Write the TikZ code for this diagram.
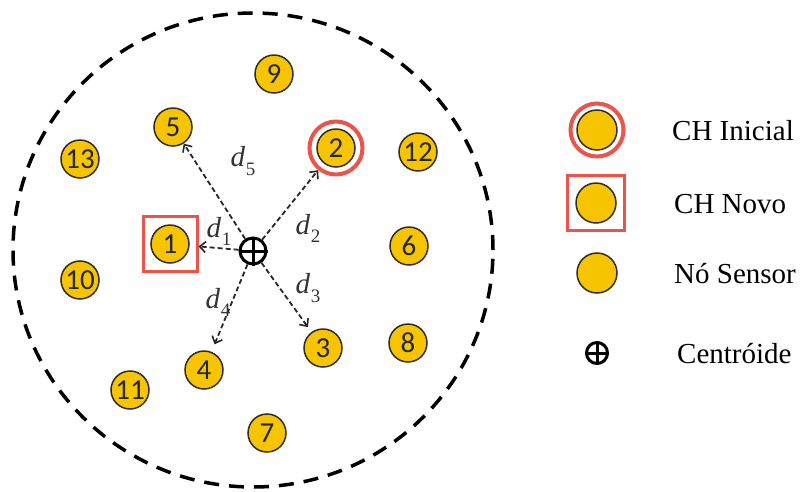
\documentclass[tikz,border=0pt]{standalone}
\usepackage{fontspec}
\setmainfont{Liberation Serif}
\newfontfamily\numfont{Carlito}
\usetikzlibrary{arrows.meta}
\definecolor{nodeyellow}{RGB}{247,197,0}
\definecolor{chred}{RGB}{234,84,74}
\definecolor{outl}{RGB}{50,45,30}
\newcommand\dsub[1]{\textit{d}\kern0.5pt\raisebox{-0.28em}{\fontsize{19}{19}\selectfont #1}}
\begin{document}
\begin{tikzpicture}[x=1pt,y=-1pt,
  sensor/.style={circle,draw=outl,line width=1.5pt,fill=nodeyellow,minimum size=38pt,inner sep=0pt,
    font=\numfont\fontsize{29}{29}\selectfont,text=black!85},
  ring/.style={circle,draw=chred,line width=4pt,minimum size=53pt,inner sep=0pt},
  sqbox/.style={rectangle,draw=chred,line width=3pt,minimum width=54pt,minimum height=55pt,inner sep=0pt},
  centr/.style={circle,draw=black,line width=3pt,minimum size=26pt,inner sep=0pt},
  bigdash/.style={line width=3.5pt,dash pattern=on 15pt off 10pt},
  dist/.style={draw=black!85,line width=1.8pt,dash pattern=on 5pt off 3pt,
    -{Straight Barb[length=6pt,width=11pt,line width=1.6pt]}},
  dlabel/.style={font=\fontsize{29}{29}\selectfont,inner sep=0pt,text=black!80},
  legtext/.style={anchor=base west,inner sep=0pt,font=\fontsize{29}{29}\selectfont}
]
\useasboundingbox (0,0) rectangle (807,491);

% cluster boundary
\draw[bigdash] (253,250) ellipse [x radius=240pt, y radius=237pt];

% red markers
\node[ring] (r2) at (336,148) {};
\node[sqbox] (s1) at (170,244) {};

% sensor nodes
\node[sensor] (n1) at (170,244) {1};
\node[sensor] (n2) at (336,148) {2};
\node[sensor] (n3) at (323,348) {3};
\node[sensor] (n4) at (204,370) {4};
\node[sensor] (n5) at (173,127) {5};
\node[sensor] (n6) at (409,246) {6};
\node[sensor] (n7) at (267,433) {7};
\node[sensor] (n8) at (408,343) {8};
\node[sensor] (n9) at (274,74) {9};
\node[sensor] (n10) at (80,280) {10};
\node[sensor] (n11) at (130,390) {11};
\node[sensor] (n12) at (418,152) {12};
\node[sensor] (n13) at (80,159) {13};

% centroid
\node[centr] (c) at (253,251) {};
\draw[line width=3pt] (c.north) -- (c.south) (c.west) -- (c.east);

% distance arrows
\draw[dist] (c) -- (s1);
\draw[dist] (c) -- (r2);
\draw[dist,shorten >=6pt] (c) -- (n3);
\draw[dist,shorten >=8pt] (c) -- (n4);
\draw[dist] (c) -- (n5);

\node[dlabel] (l1) at (219,231) {\dsub{1}};
\node[dlabel] (l2) at (308,228) {\dsub{2}};
\node[dlabel] (l3) at (308,288) {\dsub{3}};
\node[dlabel] (l4) at (218,302) {\dsub{4}};
\node[dlabel] (l5) at (243,161) {\dsub{5}};

% legend
\node[ring] (lr) at (597,130) {};
\node[sensor,minimum size=40pt] (la) at (597,130) {};
\node[sqbox,minimum width=57pt] (ls) at (596,203) {};
\node[sensor,minimum size=40pt] (lb) at (596,203) {};
\node[sensor,minimum size=40pt] (lc) at (597,273) {};
\node[centr,minimum size=21pt] (lcen) at (597,353) {};
\draw[line width=3pt] (lcen.north) -- (lcen.south) (lcen.west) -- (lcen.east);

\node[legtext] (t1) at (672,140) {CH Inicial};
\node[legtext] (t2) at (674,213) {CH Novo};
\node[legtext] (t3) at (674,283) {Nó Sensor};
\node[legtext] (t4) at (677,363) {Centróide};
\end{tikzpicture}
\end{document}
